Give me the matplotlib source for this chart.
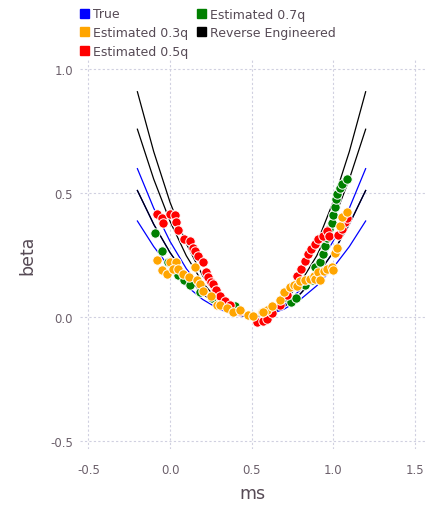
import matplotlib
matplotlib.use("Agg")
import matplotlib.pyplot as plt
import matplotlib.patches as mpatches
import numpy as np

# curve values at ms = -0.2, -0.1, ..., 1.2
curve_ms = [-0.2, -0.1, 0.0, 0.1, 0.2, 0.3, 0.4, 0.5, 0.6, 0.7, 0.8, 0.9, 1.0, 1.1, 1.2]
true_curves = [
    [0.387, 0.284, 0.198, 0.126, 0.071, 0.032, 0.008, 0.0, 0.008, 0.032, 0.071, 0.126, 0.198, 0.284, 0.387],
    [0.510, 0.374, 0.260, 0.166, 0.094, 0.042, 0.010, 0.0, 0.010, 0.042, 0.094, 0.166, 0.260, 0.374, 0.510],
    [0.598, 0.439, 0.305, 0.195, 0.110, 0.049, 0.012, 0.0, 0.012, 0.049, 0.110, 0.195, 0.305, 0.439, 0.598],
]
reverse_curves = [
    [0.510, 0.374, 0.260, 0.166, 0.094, 0.042, 0.010, 0.0, 0.010, 0.042, 0.094, 0.166, 0.260, 0.374, 0.510],
    [0.757, 0.556, 0.386, 0.247, 0.139, 0.062, 0.015, 0.0, 0.015, 0.062, 0.139, 0.247, 0.386, 0.556, 0.757],
    [0.908, 0.667, 0.463, 0.296, 0.167, 0.074, 0.019, 0.0, 0.019, 0.074, 0.167, 0.296, 0.463, 0.667, 0.908],
]

green_ms = [-0.09, -0.05, -0.01, 0.05, 0.085, 0.12, 0.185, 0.26, 0.335, 0.40,
            0.695, 0.745, 0.775, 0.83, 0.87, 0.89, 0.92, 0.94, 0.95, 0.965, 0.975,
            0.995, 1.0, 1.01, 1.02, 1.025, 1.04, 1.055, 1.085]
green_beta = [0.34, 0.265, 0.22, 0.17, 0.15, 0.13, 0.10, 0.075, 0.05, 0.045,
              0.075, 0.06, 0.075, 0.13, 0.15, 0.20, 0.22, 0.255, 0.285, 0.32, 0.355,
              0.38, 0.41, 0.445, 0.475, 0.495, 0.52, 0.535, 0.555]

red_ms = [-0.08, -0.05, -0.045, 0.0, 0.03, 0.035, 0.05, 0.085, 0.12, 0.14, 0.155, 0.17,
          0.20, 0.22, 0.235, 0.25, 0.265, 0.28, 0.305, 0.335, 0.37, 0.43, 0.535, 0.57, 0.595,
          0.625, 0.675, 0.72, 0.755, 0.78, 0.805, 0.83, 0.845, 0.865, 0.89, 0.91, 0.94,
          0.965, 0.975, 1.03, 1.055, 1.075, 1.085]
red_beta = [0.415, 0.40, 0.38, 0.415, 0.41, 0.385, 0.35, 0.315, 0.305, 0.28, 0.265, 0.245,
            0.22, 0.18, 0.16, 0.14, 0.135, 0.11, 0.085, 0.065, 0.05, 0.025, -0.02, -0.015, -0.008,
            0.015, 0.05, 0.09, 0.125, 0.165, 0.195, 0.225, 0.255, 0.275, 0.295, 0.315, 0.325,
            0.345, 0.325, 0.33, 0.355, 0.385, 0.40]

orange_ms = [-0.08, -0.05, -0.02, 0.0, 0.035, 0.02, 0.05, 0.08, 0.115, 0.155, 0.165, 0.185,
             0.205, 0.25, 0.29, 0.305, 0.35, 0.385, 0.43, 0.48, 0.51, 0.565, 0.595,
             0.57, 0.625, 0.675, 0.70, 0.735, 0.76, 0.78, 0.80, 0.83, 0.86, 0.885, 0.89,
             0.91, 0.92, 0.945, 0.965, 0.995, 1.0, 1.01, 1.025, 1.04, 1.055, 1.085]
orange_beta = [0.23, 0.19, 0.175, 0.22, 0.22, 0.195, 0.195, 0.175, 0.16, 0.20, 0.15, 0.135,
               0.105, 0.085, 0.05, 0.05, 0.035, 0.02, 0.03, 0.01, 0.005, 0.02, 0.03,
               0.02, 0.045, 0.07, 0.10, 0.12, 0.13, 0.125, 0.145, 0.15, 0.155, 0.165, 0.155,
               0.18, 0.15, 0.185, 0.195, 0.20, 0.19, 0.26, 0.28, 0.365, 0.405, 0.425]

labels = ["True", "Estimated 0.3q", "Estimated 0.5q", "Estimated 0.7q", "Reverse Engineered"]
colors = ["#0000ff", "#ffa500", "#ff0000", "#008000", "#000000"]

tick_color = "#6c606b"
label_color = "#564a55"
grid_color = "#d0d0e0"

fig = plt.figure(figsize=(4.3, 5.1), dpi=100)
ax = fig.add_axes([80 / 430, 1 - 450 / 510, 345 / 430, 390 / 510])

for c in true_curves:
    ax.plot(curve_ms, c, color="#0000ff", lw=0.9, zorder=2)
for c in reverse_curves:
    ax.plot(curve_ms, c, color="black", lw=0.9, zorder=2)

ax.scatter(green_ms, green_beta, s=46, c="#008000", edgecolors="white", linewidths=0.7, zorder=3)
ax.scatter(red_ms, red_beta, s=46, c="#ff0000", edgecolors="white", linewidths=0.7, zorder=4)
ax.scatter(orange_ms, orange_beta, s=46, c="#ffa500", edgecolors="white", linewidths=0.7, zorder=5)

ax.set_xlim(-0.552, 1.564)
ax.set_ylim(-0.532, 1.04)
ax.set_xticks([-0.5, 0.0, 0.5, 1.0, 1.5])
ax.set_yticks([-0.5, 0.0, 0.5, 1.0])
ax.set_xticklabels(["-0.5", "0.0", "0.5", "1.0", "1.5"])
ax.set_yticklabels(["-0.5", "0.0", "0.5", "1.0"])
for s in ax.spines.values():
    s.set_visible(False)
ax.tick_params(length=0, labelsize=8.5, labelcolor=tick_color)
ax.tick_params(axis="x", pad=10)
ax.tick_params(axis="y", pad=5)
ax.grid(True, color=grid_color, linestyle=(0, (2, 2)), lw=0.8, zorder=0)
ax.set_axisbelow(True)

ax.set_xlabel("ms", fontsize=12.5, color=label_color, labelpad=6)
ax.set_ylabel("beta", fontsize=12.5, color=label_color, labelpad=10)

handles = [mpatches.Patch(color=c, label=l) for c, l in zip(colors, labels)]
fig.legend(handles=handles, loc="upper left", bbox_to_anchor=(77 / 430, 1 - 6 / 510),
           ncol=2, frameon=False, fontsize=9, handlelength=0.75, handleheight=0.75,
           handletextpad=0.35, columnspacing=0.65, labelspacing=0.45,
           labelcolor=label_color, borderaxespad=0, borderpad=0.2)

plt.savefig("out.png", dpi=100)
